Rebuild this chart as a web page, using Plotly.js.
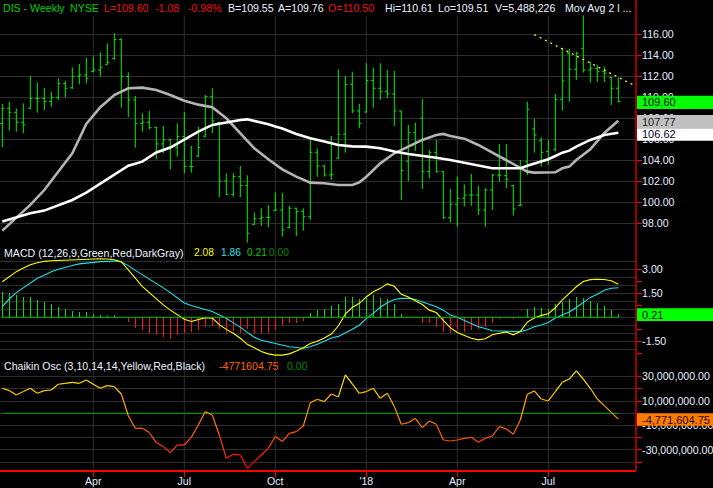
<!DOCTYPE html>
<html><head><meta charset="utf-8">
<script src="https://cdn.plot.ly/plotly-3.0.1.min.js"></script>
<style>html,body{margin:0;padding:0;background:#000;}#chart{width:713px;height:488px;}</style>
</head><body><div id="chart"></div>
<script>
// ---------- DATA (weekly bars, first week 2017-01-02) ----------
const firstWeek = Date.UTC(2017, 0, 2);
const weekCount = 89;

const open = [107.50,108.95,108.57,107.62,108.95,109.90,109.90,109.60,110.00,111.30,
110.90,112.00,112.13,112.45,112.60,113.10,113.70,115.50,111.97,109.75,
107.52,107.62,107.11,105.56,105.94,105.24,106.25,103.40,104.40,106.30,
110.06,107.60,102.03,100.76,102.44,101.59,97.90,98.44,98.57,99.20,
99.27,97.60,99.43,99.11,98.63,104.76,103.46,102.60,104.20,106.48,
111.24,108.70,108.60,111.59,110.86,110.54,110.32,108.70,103.90,106.63,
108.00,102.92,104.73,102.92,98.54,99.81,100.38,100.70,100.70,99.27,
101.17,102.60,102.54,101.60,99.70,103.87,106.98,105.90,104.83,105.05,
109.81,114.19,112.67,114.67,112.60,112.76,112.44,111.90,110.86];
const high = [109.37,109.56,108.95,109.43,112.03,111.43,110.89,110.54,111.81,111.56,
112.86,113.17,113.78,113.87,114.29,115.14,116.10,115.62,112.38,110.13,
108.48,108.70,107.21,107.27,106.10,107.52,108.60,105.37,107.21,110.22,
110.86,107.68,102.76,102.76,103.46,102.57,99.02,99.43,99.75,100.95,
100.92,99.65,99.49,99.43,106.00,105.14,103.56,106.32,112.67,112.03,
112.44,109.37,113.24,112.83,113.24,112.60,112.51,108.73,107.37,107.59,
109.84,104.98,105.94,102.98,101.27,102.44,101.71,102.70,101.56,101.33,
102.70,105.56,105.56,101.65,104.03,109.59,107.94,106.16,105.94,110.32,
114.67,114.60,114.35,117.80,113.40,113.08,112.92,111.97,111.90];
const low = [105.24,106.83,106.73,106.57,108.89,108.54,108.79,109.11,109.75,110.00,
110.79,111.24,111.33,112.38,111.97,113.08,113.56,109.02,108.10,105.21,
106.73,106.95,104.10,104.67,103.14,104.35,102.76,102.83,104.29,106.19,
106.57,100.48,100.70,100.54,100.48,96.16,97.84,97.75,97.62,99.17,
96.73,97.52,96.79,97.30,98.32,102.44,102.44,102.13,104.10,104.73,
108.48,107.05,108.54,109.02,109.75,109.90,107.27,100.22,102.03,104.89,
101.27,102.29,102.83,98.44,98.06,97.68,99.59,99.68,98.79,97.68,
99.27,101.97,101.33,98.73,99.68,102.60,104.73,103.40,103.56,104.83,
108.73,109.59,111.65,112.35,111.40,111.46,111.46,109.27,109.51];
const close = [108.95,108.57,107.62,107.37,109.90,109.90,109.60,110.00,111.30,110.86,
112.00,112.13,111.81,112.60,112.83,113.33,115.50,111.97,109.75,107.52,
107.62,107.11,105.56,105.94,105.24,106.25,103.40,103.40,105.21,110.06,
107.75,102.03,100.76,102.44,101.59,97.05,98.44,98.57,98.57,99.27,
97.37,99.43,99.11,98.63,104.76,103.46,102.60,102.67,106.48,111.24,
108.70,107.52,111.59,110.86,110.54,110.32,108.70,103.02,106.63,105.78,
102.92,104.73,102.92,98.54,99.81,100.38,100.70,100.70,99.27,101.17,
102.60,102.54,102.19,99.37,99.75,108.86,106.41,104.76,104.19,109.80,
111.56,112.67,114.19,112.60,112.76,112.44,112.29,110.86,109.60];

// moving averages read at sampled weeks (null = not read, line connects)
const maGray = [97.30,null,98.48,null,99.75,null,101.17,null,102.92,null,
104.67,null,107.46,null,109.05,null,110.22,null,110.86,null,
110.92,null,110.70,null,110.22,null,109.68,null,109.30,null,
109.05,null,108.00,null,106.57,null,105.14,null,104.10,103.65,
103.14,null,102.44,null,101.87,null,101.81,null,101.65,null,
101.65,101.90,102.44,null,103.71,null,104.67,null,105.30,null,
105.94,null,106.41,106.51,106.32,null,106.06,null,105.46,null,
104.73,null,104.03,null,103.24,102.92,102.83,null,102.83,102.86,
103.24,103.40,104.03,null,105.05,null,106.60,null,107.77];
const maWhite = [98.16,null,98.57,null,98.95,null,99.21,null,99.75,null,
100.22,null,100.92,null,101.75,null,102.60,null,103.49,null,
103.87,null,104.75,null,105.21,null,105.94,null,106.73,null,
107.37,null,107.62,null,107.84,107.90,107.75,null,107.43,107.21,
107.02,null,106.51,null,106.10,null,105.78,null,105.46,null,
105.33,null,105.30,null,105.14,null,104.83,null,104.60,null,
104.44,null,104.25,null,104.03,null,103.78,null,103.49,null,
103.24,null,103.24,null,103.24,103.49,103.71,null,104.10,104.41,
104.73,104.92,105.30,null,105.94,null,106.41,null,106.62];

const trendDates = ['2018-06-18', '2018-09-24 10:00'];
const trendValues = [115.97, 111.21];

const macd = [2.24,2.55,2.87,3.10,3.30,3.43,3.52,3.56,3.58,3.60,
3.62,3.64,3.66,3.67,3.68,3.67,3.62,3.50,3.00,2.45,
1.95,1.55,1.15,0.78,0.45,0.15,-0.12,-0.26,-0.16,-0.02,
-0.05,-0.46,-0.76,-1.00,-1.32,-1.70,-1.92,-2.15,-2.30,-2.38,
-2.38,-2.30,-2.12,-1.92,-1.65,-1.50,-1.30,-1.05,-0.55,0.20,
0.62,0.88,1.28,1.61,1.82,2.10,1.95,1.45,1.28,1.05,
0.80,0.45,0.30,-0.20,-0.65,-0.95,-1.12,-1.32,-1.42,-1.35,
-1.10,-1.00,-0.92,-1.10,-0.90,-0.30,-0.05,0.12,0.22,0.60,
1.10,1.50,1.92,2.25,2.37,2.39,2.38,2.30,2.08];
const signal = [0.67,1.15,1.55,1.85,2.20,2.45,2.65,2.87,3.02,3.15,
3.26,3.36,3.42,3.47,3.50,3.52,3.54,3.48,3.25,2.95,
2.68,2.42,2.15,1.85,1.55,1.20,0.90,0.74,0.60,0.48,
0.36,0.15,-0.06,-0.35,-0.62,-0.95,-1.25,-1.45,-1.55,-1.68,
-1.76,-1.85,-1.90,-1.95,-1.85,-1.70,-1.50,-1.30,-1.20,-1.00,
-0.75,-0.50,-0.08,0.25,0.63,0.92,1.12,1.19,1.19,1.12,
0.97,0.82,0.67,0.45,0.15,0.00,-0.20,-0.38,-0.60,-0.70,
-0.85,-0.86,-0.86,-0.87,-0.90,-0.78,-0.60,-0.48,-0.33,-0.05,
0.12,0.34,0.62,0.95,1.25,1.45,1.70,1.83,1.86];
const hist = [1.61,1.55,1.40,1.30,1.26,1.09,0.99,0.84,0.63,0.50,
0.42,0.36,0.36,0.21,0.15,0.08,0.15,0.00,-0.27,-0.69,
-0.80,-0.96,-1.11,-1.26,-1.38,-1.11,-1.00,-0.90,-0.80,-0.63,
-0.55,-0.75,-0.96,-0.84,-1.00,-0.75,-1.00,-0.96,-0.96,-0.80,
-0.48,-0.38,-0.34,-0.21,0.25,0.46,0.50,0.71,0.84,1.25,
1.25,1.15,1.23,1.40,1.23,1.15,0.84,0.21,0.04,0.00,
-0.33,-0.38,-0.59,-0.90,-0.96,-0.80,-0.90,-0.80,-0.75,-0.59,
-0.33,-0.08,-0.06,-0.08,0.00,0.50,0.63,0.56,0.50,0.84,
0.98,1.13,1.28,1.19,1.05,0.88,0.71,0.46,0.21];

// Chaikin oscillator, in millions
const chaikinM = [20.5,18.6,15.0,17.8,20.5,16.4,18.6,19.1,23.8,24.6,
25.4,24.6,27.3,23.8,20.5,22.7,21.9,15.8,-2.0,-12.3,
-12.3,-15.8,-24.0,-27.3,-32.2,-26.0,-26.0,-19.7,-9.6,1.4,
-1.4,-17.8,-36.9,-33.6,-34.2,-45.1,-39.6,-34.2,-28.7,-19.1,
-23.2,-16.4,-15.0,-10.4,8.7,11.5,9.6,15.8,13.4,31.4,
24.2,16.4,17.8,20.5,12.3,16.4,5.5,-9.0,-7.7,-4.1,
-11.7,-6.3,-9.0,-21.9,-22.7,-21.9,-20.5,-19.7,-23.8,-20.5,
-18.6,-10.9,-12.8,-17.2,-5.5,15.6,18.3,11.7,10.1,17.8,
25.4,28.1,34.7,28.1,20.5,11.7,6.3,0.8,-4.77160475];

const quarterDates = ['2017-04-03','2017-07-03','2017-10-02','2018-01-01','2018-04-02','2018-07-02'];
const quarterLabels = ['Apr','Jul','Oct',"'18",'Apr','Jul'];
const priceTicks = [98,100,102,104,106,108,110,112,114,116];
const macdGrid = [-2.5,-2,-1.5,-1,-0.5,0,0.5,1,1.5,2,2.5,3,3.5];
const macdLabels = [3,1.5,0,-1.5];
const macdMarks = [-2.25,-1.5,-0.75,0,0.75,1.5,2.25,3];
const chaikinTicksM = [-40,-30,-20,-10,0,10,20,30];
const chaikinLabelsM = [30,10,-10,-30];

// ---------- BUILD ----------
const weeks = [];
for (let i = 0; i < weekCount; i++) weeks.push(new Date(firstWeek + i * 7 * 864e5).toISOString().slice(0, 10));
const chaikin = chaikinM.map(v => v * 1e6);
const last = a => a[a.length - 1];

const FONT = 'Arial, "Liberation Sans", sans-serif';
const TXT = '#e6ecff';
const GRID = '#2e2e2e';
const FS = 10.6;
const px = x => x / 636, py = y => (470 - y) / 470;

const traces = [];
traces.push({type:'ohlc', x:weeks, open, high, low, close, xaxis:'x', yaxis:'y',
  increasing:{line:{color:'#00ee00', width:1}}, decreasing:{line:{color:'#00ee00', width:1}},
  tickwidth:0.3, hoverinfo:'skip'});
traces.push({type:'scatter', mode:'lines', x:weeks, y:maGray, connectgaps:true, xaxis:'x', yaxis:'y',
  line:{color:'#b4b4b4', width:2.6}, hoverinfo:'skip'});
traces.push({type:'scatter', mode:'lines', x:weeks, y:maWhite, connectgaps:true, xaxis:'x', yaxis:'y',
  line:{color:'#ffffff', width:2.6}, hoverinfo:'skip'});
traces.push({type:'scatter', mode:'lines', x:trendDates, y:trendValues, xaxis:'x', yaxis:'y',
  line:{color:'#ffff00', width:1.3, dash:'2px,4px'}, hoverinfo:'skip'});

// MACD
traces.push({type:'scatter', mode:'lines', x:[weeks[0], last(weeks)], y:[0,0], xaxis:'x', yaxis:'y4',
  line:{color:'#00b400', width:1}, hoverinfo:'skip'});
traces.push({type:'bar', x:weeks, y:hist, xaxis:'x', yaxis:'y2', width:1.3*864e5,
  marker:{color:hist.map(v => v >= 0 ? '#00e000' : '#ff1010'), line:{width:0}}, hoverinfo:'skip'});
traces.push({type:'scatter', mode:'lines', x:weeks, y:signal, xaxis:'x', yaxis:'y2',
  line:{color:'#20e0e8', width:1.1}, hoverinfo:'skip'});
traces.push({type:'scatter', mode:'lines', x:weeks, y:macd, xaxis:'x', yaxis:'y2',
  line:{color:'#ffff00', width:1.1}, hoverinfo:'skip'});

// Chaikin
traces.push({type:'scatter', mode:'lines', x:[weeks[0], last(weeks)], y:[0,0], xaxis:'x', yaxis:'y3',
  line:{color:'#009000', width:1.2}, hoverinfo:'skip'});
const chaikinColor = v => { const t = Math.max(0, Math.min(1, (v + 45) / 80)); return 'rgb(255,' + Math.round(255 * t) + ',0)'; };
for (let i = 0; i < weekCount - 1; i++) {
  traces.push({type:'scatter', mode:'lines', x:[weeks[i], weeks[i+1]], y:[chaikin[i], chaikin[i+1]],
    xaxis:'x', yaxis:'y3', line:{color:chaikinColor((chaikinM[i] + chaikinM[i+1]) / 2), width:1.2}, hoverinfo:'skip'});
}

const fmt2 = v => v.toFixed(2);
const fmtBig = v => v.toLocaleString('en-US', {minimumFractionDigits:2, maximumFractionDigits:2});

const yBase = {side:'right', anchor:'x', ticks:'outside', ticklen:5, tickcolor:'#ff0000', tickwidth:1,
  showline:false, zeroline:false, showgrid:true, gridcolor:GRID, gridwidth:1, fixedrange:true,
  tickfont:{family:FONT, size:FS, color:TXT}, ticklabelstandoff:-2};

const layout = {
  width:713, height:488, paper_bgcolor:'#000', plot_bgcolor:'#000',
  margin:{l:0, r:77, t:0, b:18, pad:0}, showlegend:false, hovermode:false, bargap:0,
  xaxis:{type:'date', range:['2016-12-30 16:48','2018-09-27 16:48'], anchor:'y3',
    tickmode:'array', tickvals:quarterDates, ticktext:quarterLabels,
    ticks:'outside', ticklen:5, tickcolor:'#ff0000', showline:true, linecolor:'#ff0000', linewidth:1.5,
    showgrid:false, zeroline:false, rangeslider:{visible:false}, fixedrange:true, ticklabelstandoff:-4,
    tickfont:{family:FONT, size:FS, color:TXT}},
  yaxis:Object.assign({}, yBase, {domain:[py(244), py(12)], range:[96.029, 118.124],
    tickmode:'array', tickvals:priceTicks, ticktext:priceTicks.map(fmt2)}),
  yaxis2:Object.assign({}, yBase, {domain:[py(358), py(256)], range:[-2.56, 3.855],
    tickmode:'array', tickvals:macdGrid, ticktext:macdGrid.map(v => macdLabels.includes(v) ? fmt2(v) : ''),
    tickcolor:'rgba(0,0,0,0)'}),
  yaxis4:{overlaying:'y2', side:'right', anchor:'x', range:[-2.56, 3.855], tickmode:'array', tickvals:macdMarks,
    ticks:'outside', ticklen:5, tickcolor:'#ff0000', showticklabels:false, showgrid:false, zeroline:false, showline:false, fixedrange:true},
  yaxis3:Object.assign({}, yBase, {domain:[0, py(360)], range:[-46.48e6, 43.69e6],
    tickmode:'array', tickvals:chaikinTicksM.map(v => v * 1e6),
    ticktext:chaikinTicksM.map(v => chaikinLabelsM.includes(v) ? fmtBig(v * 1e6) : '')}),
  shapes:[], annotations:[]
};

// vertical grid lines through all panels
quarterDates.forEach(d => layout.shapes.push({type:'line', xref:'x', yref:'paper', x0:d, x1:d, y0:0, y1:py(16),
  line:{color:GRID, width:1}, layer:'below'}));
// red right axis line
layout.shapes.push({type:'line', xref:'paper', yref:'paper', x0:px(636), x1:px(636), y0:0, y1:1,
  line:{color:'#ff0000', width:1.2}, layer:'above'});

// value boxes on the right axis
function valueBox(yref, value, fill, textColor, text, lo, hi) {
  layout.shapes.push({type:'rect', xref:'paper', x0:px(637), x1:px(713), yref:yref, ysizemode:'pixel', yanchor:value,
    y0:lo, y1:hi, fillcolor:fill, line:{width:0}, layer:'above'});
  layout.annotations.push({xref:'paper', x:px(641), xanchor:'left', yref:yref, y:value, yanchor:'middle',
    yshift:(lo + hi) / 2, text:text, showarrow:false, borderpad:0, font:{family:FONT, size:FS + 0.4, color:textColor}});
}
valueBox('y', last(close), '#00ff00', '#000000', fmt2(last(close)), -7.6, 5.7);
valueBox('y', last(maGray), '#c0c0c0', '#1a1a1a', fmt2(last(maGray)), -7.6, 5.7);
valueBox('y', last(maWhite), '#ffffff', '#000030', fmt2(last(maWhite)), -7.9, 4.5);
valueBox('y2', last(hist), '#00ff00', '#000000', fmt2(last(hist)), -7.0, 5.7);
valueBox('y3', last(chaikin), '#ff7a00', '#1a0a00', fmtBig(last(chaikin)), -6.6, 5.8);

// header and panel titles
function label(text, x, y, color, size) {
  layout.annotations.push({xref:'paper', yref:'paper', x:px(x), y:py(y), xanchor:'left', yanchor:'middle',
    text:text, showarrow:false, borderpad:0, font:{family:FONT, size:size || FS, color:color}});
}
const GREEN = '#00d000', RED = '#ee1111', WHITE = '#eef2ff';
label('DIS - Weekly', 1.5, 8, GREEN);
label('NYSE', 69, 8, GREEN);
label('L=109.60', 103, 8, RED);
label('-1.08', 154, 8, RED);
label('-0.98%', 187, 8, RED);
label('B=109.55', 226.5, 8, WHITE);
label('A=109.76', 276.5, 8, WHITE);
label('O=110.50', 326.5, 8, RED);
label('Hi=110.61', 384, 8, WHITE);
label('Lo=109.51', 437, 8, WHITE);
label('V=5,488,226', 494, 8, WHITE);
label('Mov Avg 2 l ...', 564, 8, WHITE);

label('MACD (12,26,9,Green,Red,DarkGray)', 2.5, 252.5, WHITE);
label(fmt2(last(macd)), 192.5, 252.5, '#ffff00', 10.2);
label(fmt2(last(signal)), 219.5, 252.5, '#20e0e8', 10.2);
label(fmt2(last(hist)), 246, 252.5, '#00c800', 10.2);
label('0.00', 268, 252.5, '#008a00', 10.2);

label('Chaikin Osc (3,10,14,14,Yellow,Red,Black)', 2.5, 365.5, WHITE);
label(last(chaikin).toFixed(2), 218, 365.5, '#ff6400');
label('0.00', 286, 365.5, '#008a00');

Plotly.newPlot('chart', traces, layout, {staticPlot:true, displayModeBar:false});
</script></body></html>
